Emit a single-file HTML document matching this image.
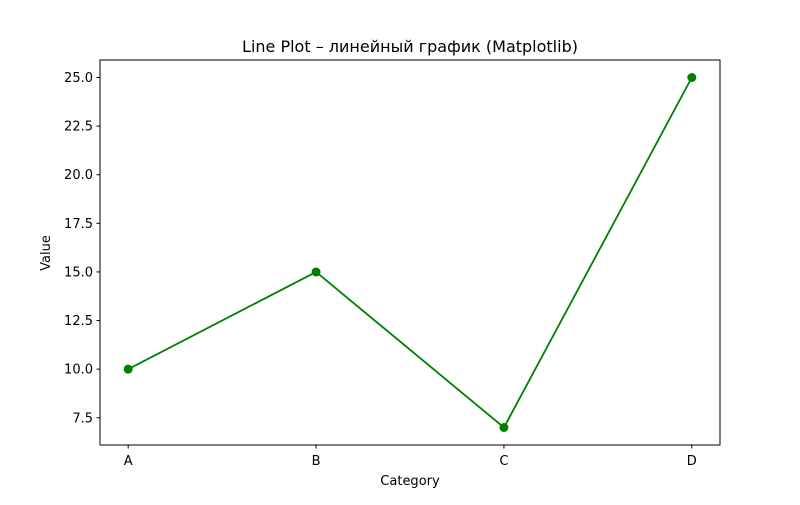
<!DOCTYPE html>
<html><head><meta charset="utf-8"><style>
body{margin:0;background:#fff}
svg text{font-family:"DejaVu Sans","Liberation Sans",sans-serif;fill:#000}
</style></head><body>
<svg id="chart" width="800" height="500" xmlns="http://www.w3.org/2000/svg">
<rect width="800" height="500" fill="#fff"/>
<text x="410" y="52" font-size="16" text-anchor="middle">Line Plot – линейный график (Matplotlib)</text>
<g id="ticks"></g>
<g id="series"></g>
<rect x="100" y="60" width="620" height="385" fill="none" stroke="#000" stroke-width="1"/>
<text x="410" y="485" font-size="13" text-anchor="middle">Category</text>
<text transform="translate(50,253) rotate(-90)" font-size="13" text-anchor="middle">Value</text>
</svg>
<script>
const categories = ["A","B","C","D"];
const values = [10,15,7,25];
const yTicks = [7.5,10.0,12.5,15.0,17.5,20.0,22.5,25.0];
const NS="http://www.w3.org/2000/svg";
const L=100,R=720,T=60,B=445;
const ymin=Math.min(...values),ymax=Math.max(...values),pad=(ymax-ymin)*0.05;
const y0=ymin-pad,y1=ymax+pad;
const n=categories.length,xpad=(n-1)*0.05;
function xs(i){return L+(i+xpad)/((n-1)+2*xpad)*(R-L);}
function ys(v){return B-(v-y0)/(y1-y0)*(B-T);}
function mk(tag,attrs,parent){const e=document.createElementNS(NS,tag);for(const k in attrs)e.setAttribute(k,attrs[k]);parent.appendChild(e);return e;}
const tg=document.getElementById('ticks'),sg=document.getElementById('series');
yTicks.forEach(v=>{const y=ys(v);
 const l=mk('line',{x1:L-3.5,x2:L,y1:y,y2:y,stroke:'#000'},tg);
 
 
 const t=mk('text',{x:L-7,y:y+4.5,'font-size':13,'text-anchor':'end'},tg);t.textContent=v.toFixed(1);
 
 
});
categories.forEach((c,i)=>{const x=xs(i);
 const l=mk('line',{x1:x,x2:x,y1:B,y2:B+3.5,stroke:'#000'},tg);
 
 
 const t=mk('text',{x:x,y:B+20,'font-size':13,'text-anchor':'middle'},tg);t.textContent=c;
 
 
});
const pts=values.map((v,i)=>xs(i)+','+ys(v)).join(' ');
const pl=mk('polyline',{points:pts,fill:'none',stroke:'#008000','stroke-width':1.8},sg);


values.forEach((v,i)=>{const c=mk('circle',{cx:xs(i),cy:ys(v),r:4.5,fill:'#008000'},sg);
 
 
});
</script>
</body></html>
